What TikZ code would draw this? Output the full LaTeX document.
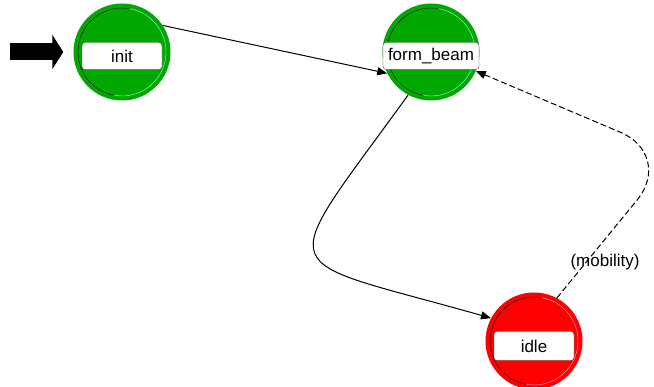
\documentclass[tikz,border=0pt]{standalone}
\usepackage{fontspec}
\setmainfont{Liberation Sans}
\usepackage{tikz}
\usetikzlibrary{arrows.meta}
\definecolor{stateGreen}{RGB}{0,168,0}
\definecolor{stateRed}{RGB}{255,0,0}
\colorlet{greenShine}{green!30!cyan!40}
\colorlet{redShine}{magenta!35}

\begin{document}
\begin{tikzpicture}[
  x=1pt,
  y=1pt,
  every node/.style={
    font=\fontsize{17}{20}\selectfont,
  },
  state circle/.style={
    circle,
    minimum size=97pt,
    inner sep=0pt,
  },
  forced state/.style={
    state circle,
    fill=stateGreen,
  },
  unforced state/.style={
    state circle,
    fill=stateRed,
  },
  state label/.style={
    draw=black!75,
    fill=white,
    rounded corners=3pt,
    inner sep=0pt,
    minimum height=27pt,
  },
  trans/.style={
    draw=black,
    line width=1pt,
    -{Triangle[length=10pt,width=8pt]},
  },
  entry arrow/.style={
    line width=17pt,
    -{Triangle[length=11pt,width=34pt]},
  },
]
\useasboundingbox (0,0) rectangle (654,387);
\node[forced state] (init) at (122,335) {};
\node[forced state] (formbeam) at (431,335) {};
\node[unforced state] (idle) at (534,46) {};
% bevel rings
\foreach \s/\c in {init/greenShine,formbeam/greenShine,idle/redShine}{
  \draw[black] ([shift={(80:44pt)}]\s.center) arc[start angle=80,end angle=260,radius=44pt];
  \draw[\c] ([shift={(260:44pt)}]\s.center) arc[start angle=260,end angle=440,radius=44pt];
}
\node[state label,minimum width=80pt] (initLabel) at ([yshift=-4pt]init.center) {init};
\node[state label,minimum width=96pt] (formbeamLabel) at ([yshift=-4pt]formbeam.center) {form\_beam};
\node[state label,minimum width=80pt,minimum height=29pt] (idleLabel) at ([yshift=-5pt]idle.center) {idle};
% initial state marker
\coordinate (entry) at (10,335);
\draw[entry arrow] (entry) -- ([xshift=-10pt]init.west);
% transitions
\draw[trans] (init.33) -- (formbeam.206);
\draw[trans] (formbeam.242) .. controls (273,105) and (269,132) .. (idle.152);
\coordinate (bend) at (674,232);
\draw[trans,dash pattern=on 6pt off 3pt,rounded corners=58pt] (idle.62) -- (bend) -- (formbeam.-23);
\node (mobility) at (605,125) {(mobility)};
\end{tikzpicture}
\end{document}
